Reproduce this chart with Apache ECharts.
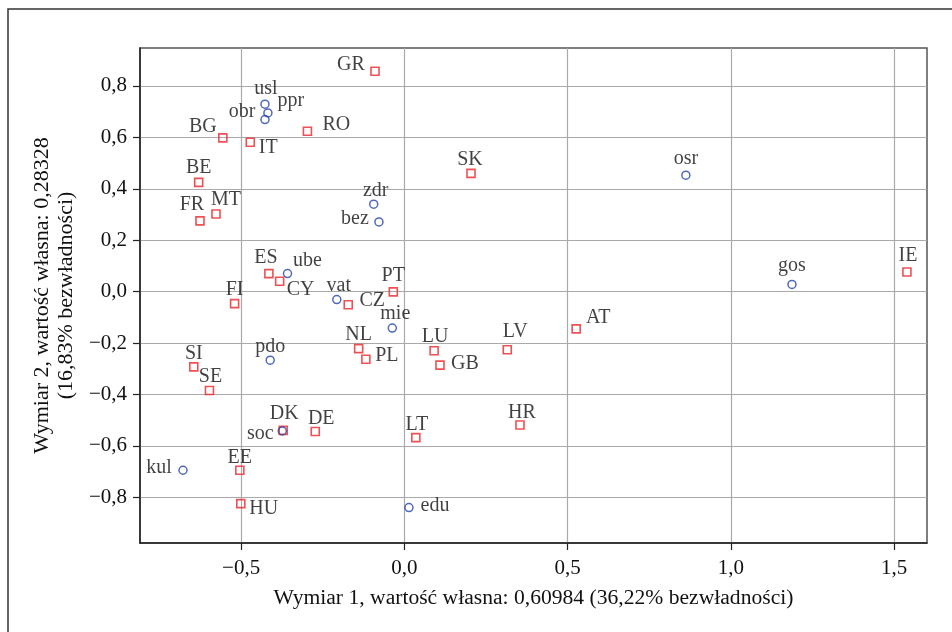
<!DOCTYPE html>
<html>
<head>
<meta charset="utf-8">
<script src="https://cdn.jsdelivr.net/npm/echarts@6/dist/echarts.min.js"></script>
<style>
html,body{margin:0;padding:0;background:#fff;}
#chart{width:952px;height:632px;}
</style>
</head>
<body>
<div id="chart"></div>
<script>
// ---- data ----
const countryNames = ['GR','BG','IT','RO','SK','BE','FR','MT','ES','CY','FI','CZ','PT','IE','AT','SI','SE','NL','PL','LU','GB','LV','DK','DE','LT','HR','EE','HU'];
const countryX = [-0.090,-0.556,-0.472,-0.297,0.204,-0.630,-0.626,-0.577,-0.415,-0.382,-0.520,-0.172,-0.034,1.539,0.526,-0.645,-0.597,-0.140,-0.118,0.091,0.109,0.315,-0.371,-0.273,0.035,0.354,-0.504,-0.501];
const countryY = [0.857,0.598,0.581,0.624,0.460,0.425,0.275,0.302,0.070,0.040,-0.047,-0.051,-0.001,0.076,-0.145,-0.293,-0.385,-0.222,-0.263,-0.230,-0.286,-0.226,-0.540,-0.544,-0.568,-0.519,-0.695,-0.825];

const catNames = ['usl','ppr','obr','zdr','bez','ube','vat','osr','gos','mie','pdo','soc','kul','edu'];
const catX = [-0.427,-0.418,-0.427,-0.094,-0.078,-0.358,-0.207,0.862,1.187,-0.037,-0.411,-0.374,-0.678,0.014];
const catY = [0.729,0.695,0.669,0.340,0.271,0.070,-0.031,0.453,0.028,-0.142,-0.267,-0.542,-0.695,-0.840];

const xTicks = [-0.5, 0.0, 0.5, 1.0, 1.5];
const yTicks = [-0.8, -0.6, -0.4, -0.2, 0.0, 0.2, 0.4, 0.6, 0.8];

const xTitle = 'Wymiar 1, wartość własna: 0,60984 (36,22% bezwładności)';
const yTitle = 'Wymiar 2, wartość własna: 0,28328\n(16,83% bezwładności)';

// ---- label placement (style) ----
const labelOffset = {
  GR:[-24,-7], BG:[-20,-11], IT:[18,6], RO:[29,-6], SK:[-1,-14], BE:[0,-15], FR:[-8,-16], MT:[10,-14],
  ES:[-3,-16], CY:[21,8], FI:[0,-14], CZ:[24,-4], PT:[0,-16], IE:[1,-16], AT:[22,-11], SI:[0,-13],
  SE:[1,-14], NL:[0,-14], PL:[21,-3], LU:[1,-14], GB:[25,-1], LV:[8,-18], DK:[1,-17], DE:[6,-13],
  LT:[1,-13], HR:[2,-12], EE:[0,-13], HU:[23,5],
  usl:[1,-15], ppr:[23,-12], obr:[-23,-8], zdr:[2,-13], bez:[-24,-3], ube:[20,-13], vat:[2,-14],
  osr:[0,-16], gos:[0,-19], mie:[3,-14], pdo:[0,-13], soc:[-22,3], kul:[-24,-3], edu:[26,-2]
};

const FONT = 'Liberation Serif';
const TXT = '#111';

function build(names, xs, ys) {
  return names.map((n, i) => ({
    name: n,
    value: [xs[i], ys[i]],
    label: { offset: labelOffset[n] || [0, -14] }
  }));
}
function fmt(v) {
  return v.toFixed(1).replace('.', ',').replace('-', '\u2212');
}

const chart = echarts.init(document.getElementById('chart'));
chart.setOption({
  animation: false,
  backgroundColor: '#fff',
  graphic: [{
    type: 'rect',
    shape: { x: 8, y: 9, width: 1100, height: 800 },
    style: { fill: 'none', stroke: '#333', lineWidth: 1.5 },
    silent: true
  }],
  grid: {
    left: 140, top: 48, right: 25, bottom: 89,
    show: true, borderColor: '#555', borderWidth: 1.5, backgroundColor: 'transparent'
  },
  xAxis: {
    type: 'value',
    min: -0.8097, max: 1.6005,
    name: xTitle,
    nameLocation: 'middle',
    nameGap: 44,
    nameTextStyle: { fontFamily: FONT, fontSize: 21.6, color: TXT, lineHeight: 22 },
    axisLine: { show: true, onZero: false, lineStyle: { color: '#222', width: 1.5 } },
    axisTick: { show: true, length: 7, lineStyle: { color: '#222', width: 1.2 }, customValues: xTicks },
    axisLabel: { fontFamily: FONT, fontSize: 21, color: TXT, margin: 15, customValues: xTicks, formatter: fmt },
    splitLine: { show: true, lineStyle: { color: '#aaa', width: 1.2 } }
  },
  yAxis: {
    type: 'value',
    min: -0.978, max: 0.9476,
    name: yTitle,
    nameLocation: 'middle',
    nameRotate: 90,
    nameGap: 57,
    nameTextStyle: { fontFamily: FONT, fontSize: 22, color: TXT, lineHeight: 24 },
    axisLine: { show: true, onZero: false, lineStyle: { color: '#222', width: 1.5 } },
    axisTick: { show: true, length: 7, lineStyle: { color: '#222', width: 1.2 }, customValues: yTicks },
    axisLabel: { fontFamily: FONT, fontSize: 21, color: TXT, margin: 13, customValues: yTicks, formatter: fmt },
    splitLine: { show: true, lineStyle: { color: '#aaa', width: 1.2 } }
  },
  series: [
    {
      type: 'scatter',
      name: 'kraje',
      symbol: 'rect',
      symbolSize: 8,
      itemStyle: { color: 'rgba(255,255,255,0)', borderColor: '#e8262b', borderWidth: 1.6 },
      label: { show: true, position: 'inside', formatter: '{b}', fontFamily: FONT, fontSize: 20, color: TXT },
      data: build(countryNames, countryX, countryY),
      z: 3
    },
    {
      type: 'scatter',
      name: 'kategorie',
      symbol: 'circle',
      symbolSize: 8,
      itemStyle: { color: 'rgba(255,255,255,0)', borderColor: '#2444a8', borderWidth: 1.5 },
      label: { show: true, position: 'inside', formatter: '{b}', fontFamily: FONT, fontSize: 20, color: TXT },
      data: build(catNames, catX, catY),
      z: 3
    }
  ]
});
</script>
</body>
</html>
